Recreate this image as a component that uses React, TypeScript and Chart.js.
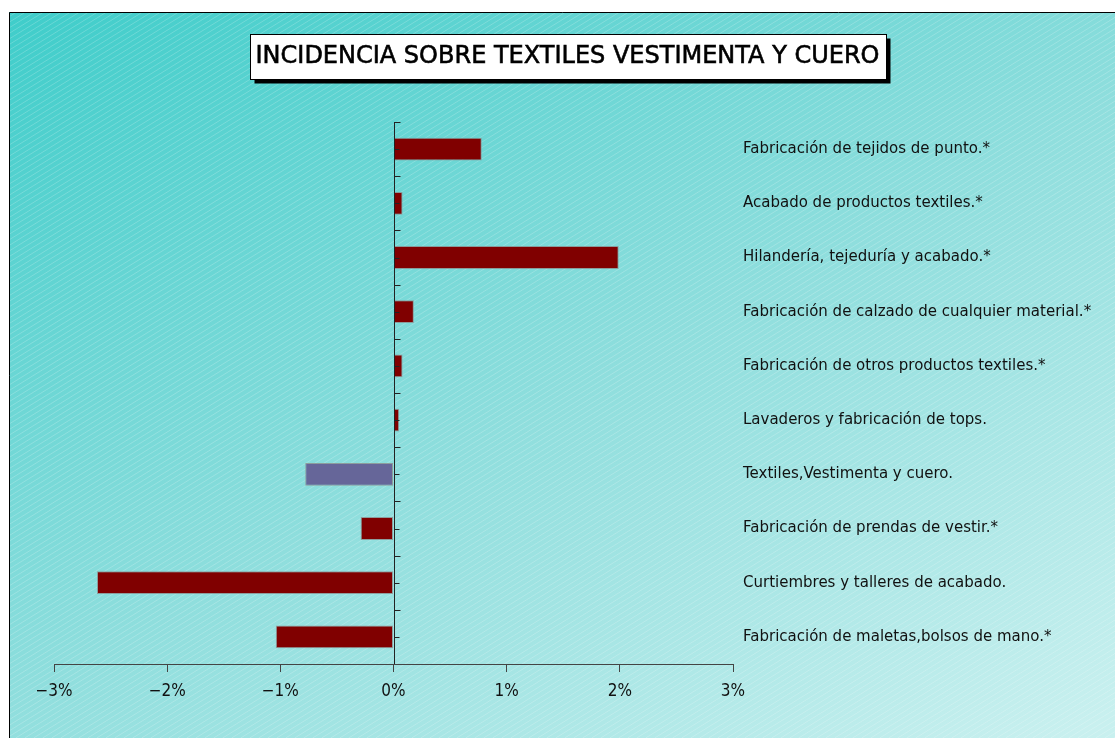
import React, { useEffect, useRef } from "react";
import { Chart, registerables } from "chart.js";

Chart.register(...registerables);

const TITLE = "INCIDENCIA SOBRE TEXTILES VESTIMENTA Y CUERO";

const categories = [
  "Fabricación de tejidos de punto.*",
  "Acabado de productos textiles.*",
  "Hilandería, tejeduría y acabado.*",
  "Fabricación de calzado de cualquier material.*",
  "Fabricación de otros productos textiles.*",
  "Lavaderos y fabricación de tops.",
  "Textiles,Vestimenta y cuero.",
  "Fabricación de prendas de vestir.*",
  "Curtiembres y talleres de acabado.",
  "Fabricación de maletas,bolsos de mano.*",
];

const values = [0.78, 0.08, 1.99, 0.18, 0.08, 0.05, -0.78, -0.29, -2.62, -1.04];

const barColors = [
  "#800000", "#800000", "#800000", "#800000", "#800000",
  "#800000", "#666699", "#800000", "#800000", "#800000",
];

const xTicks = [-3, -2, -1, 0, 1, 2, 3];

const bgPlugin = {
  id: "bgPlugin",
  beforeDraw(chart: any) {
    const { ctx, width, height } = chart;
    ctx.save();
    ctx.fillStyle = "#ffffff";
    ctx.fillRect(0, 0, width, height);
    const fx = 9, fy = 12;
    const g = ctx.createLinearGradient(fx, fy, fx + 546, fy + 1004);
    g.addColorStop(0, "#3fcdca");
    g.addColorStop(0.53, "#8fdedd");
    g.addColorStop(1, "#c8f0ef");
    ctx.fillStyle = g;
    ctx.fillRect(fx, fy, width - fx, height - fy);
    // diagonal stripes
    ctx.beginPath();
    ctx.rect(fx, fy, width - fx, height - fy);
    ctx.clip();
    ctx.strokeStyle = "rgba(255,255,255,0.2)";
    ctx.lineWidth = 1;
    const slope = 0.62;
    const span = height / slope;
    for (let s = -span; s < width + span; s += 9) {
      ctx.beginPath();
      ctx.moveTo(s, height);
      ctx.lineTo(s + span, 0);
      ctx.stroke();
    }
    ctx.restore();
    // frame
    ctx.save();
    ctx.strokeStyle = "#000";
    ctx.lineWidth = 1;
    ctx.beginPath();
    ctx.moveTo(fx + 0.5, height);
    ctx.lineTo(fx + 0.5, fy + 0.5);
    ctx.lineTo(width, fy + 0.5);
    ctx.stroke();
    ctx.restore();

    // title box
    ctx.save();
    ctx.font = "24px 'DejaVu Sans', sans-serif";
    const tw = ctx.measureText(TITLE).width;
    const cx = 567.5, cy = 56;
    const bw = Math.round(tw + 12), bh = 45;
    const bx = Math.round(cx - bw / 2) + 0.5, by = Math.round(cy - bh / 2) + 0.5;
    ctx.fillStyle = "#000";
    ctx.fillRect(bx + 4, by + 4, bw, bh);
    ctx.fillStyle = "#fff";
    ctx.fillRect(bx, by, bw, bh);
    ctx.strokeStyle = "#000";
    ctx.lineWidth = 1;
    ctx.strokeRect(bx, by, bw, bh);
    ctx.fillStyle = "#000";
    ctx.textAlign = "center";
    ctx.textBaseline = "middle";
    ctx.fillText(TITLE, cx, cy + 1);
    ctx.lineWidth = 0.6;
    ctx.strokeText(TITLE, cx, cy + 1);
    ctx.restore();
  },
  afterDatasetsDraw(chart: any) {
    const { ctx, chartArea } = chart;
    const xs = chart.scales.x;
    const ys = chart.scales.y;
    const x0 = Math.round(xs.getPixelForValue(0)) + 0.5;
    ctx.save();
    ctx.strokeStyle = "#222";
    ctx.lineWidth = 1;
    ctx.beginPath();
    ctx.moveTo(x0, chartArea.top);
    ctx.lineTo(x0, chartArea.bottom);
    const n = categories.length;
    const half = (ys.getPixelForValue(1) - ys.getPixelForValue(0)) / 2;
    for (let i = 0; i < n; i++) {
      const c = ys.getPixelForValue(i);
      const yb = Math.round(c - half) + 0.5;
      const yc = Math.round(c) + 0.5;
      ctx.moveTo(x0, yb);
      ctx.lineTo(x0 + 6, yb);
      ctx.moveTo(x0, yc);
      ctx.lineTo(x0 + 5, yc);
    }
    ctx.stroke();
    ctx.restore();
  },
};

export default function App() {
  const ref = useRef<HTMLCanvasElement | null>(null);
  useEffect(() => {
    if (!ref.current) return;
    const chart = new Chart(ref.current, {
      type: "bar",
      data: {
        labels: categories,
        datasets: [
          {
            data: values,
            backgroundColor: barColors,
            borderColor: "rgba(140,140,140,0.8)",
            borderWidth: 1,
            borderSkipped: false,
            categoryPercentage: 1,
            barPercentage: 0.42,
            yAxisID: "y",
          },
        ],
      },
      options: {
        indexAxis: "y",
        animation: false,
        responsive: false,
        maintainAspectRatio: false,
        layout: { padding: { left: 54, top: 122, right: 0, bottom: 0 } },
        plugins: {
          legend: { display: false },
          title: { display: false },
          tooltip: { enabled: false },
        },
        scales: {
          x: {
            type: "linear",
            min: -3,
            max: 3,
            afterBuildTicks: (scale: any) => {
              scale.ticks = xTicks.map((v) => ({ value: v }));
            },
            afterFit: (scale: any) => {
              scale.height = 74;
            },
            ticks: {
              color: "#111",
              font: { family: "'DejaVu Sans Condensed', 'DejaVu Sans', sans-serif", size: 17 },
              padding: 9,
              callback: (v: any) => (v < 0 ? "\u2212" + Math.abs(v) + "%" : v + "%"),
            },
            grid: {
              drawOnChartArea: false,
              drawTicks: true,
              tickLength: 8,
              color: "#444",
            },
            border: { display: true, color: "#444", width: 1 },
          },
          y: {
            type: "category",
            offset: true,
            display: false,
            grid: { display: false },
          },
          y2: {
            type: "category",
            position: "right",
            labels: categories,
            offset: true,
            afterFit: (scale: any) => {
              scale.width = 382;
            },
            ticks: {
              color: "#111",
              padding: 10,
              font: { family: "'DejaVu Sans', sans-serif", size: 15 },
            },
            grid: { display: false, drawTicks: false },
            border: { display: false },
          },
        },
      },
      plugins: [bgPlugin],
    } as any);
    return () => chart.destroy();
  }, []);
  return (
    <div style={{ position: "fixed", left: 0, top: 0, width: 1115, height: 738 }}>
      <canvas ref={ref} width={1115} height={738} style={{ display: "block" }} />
    </div>
  );
}
